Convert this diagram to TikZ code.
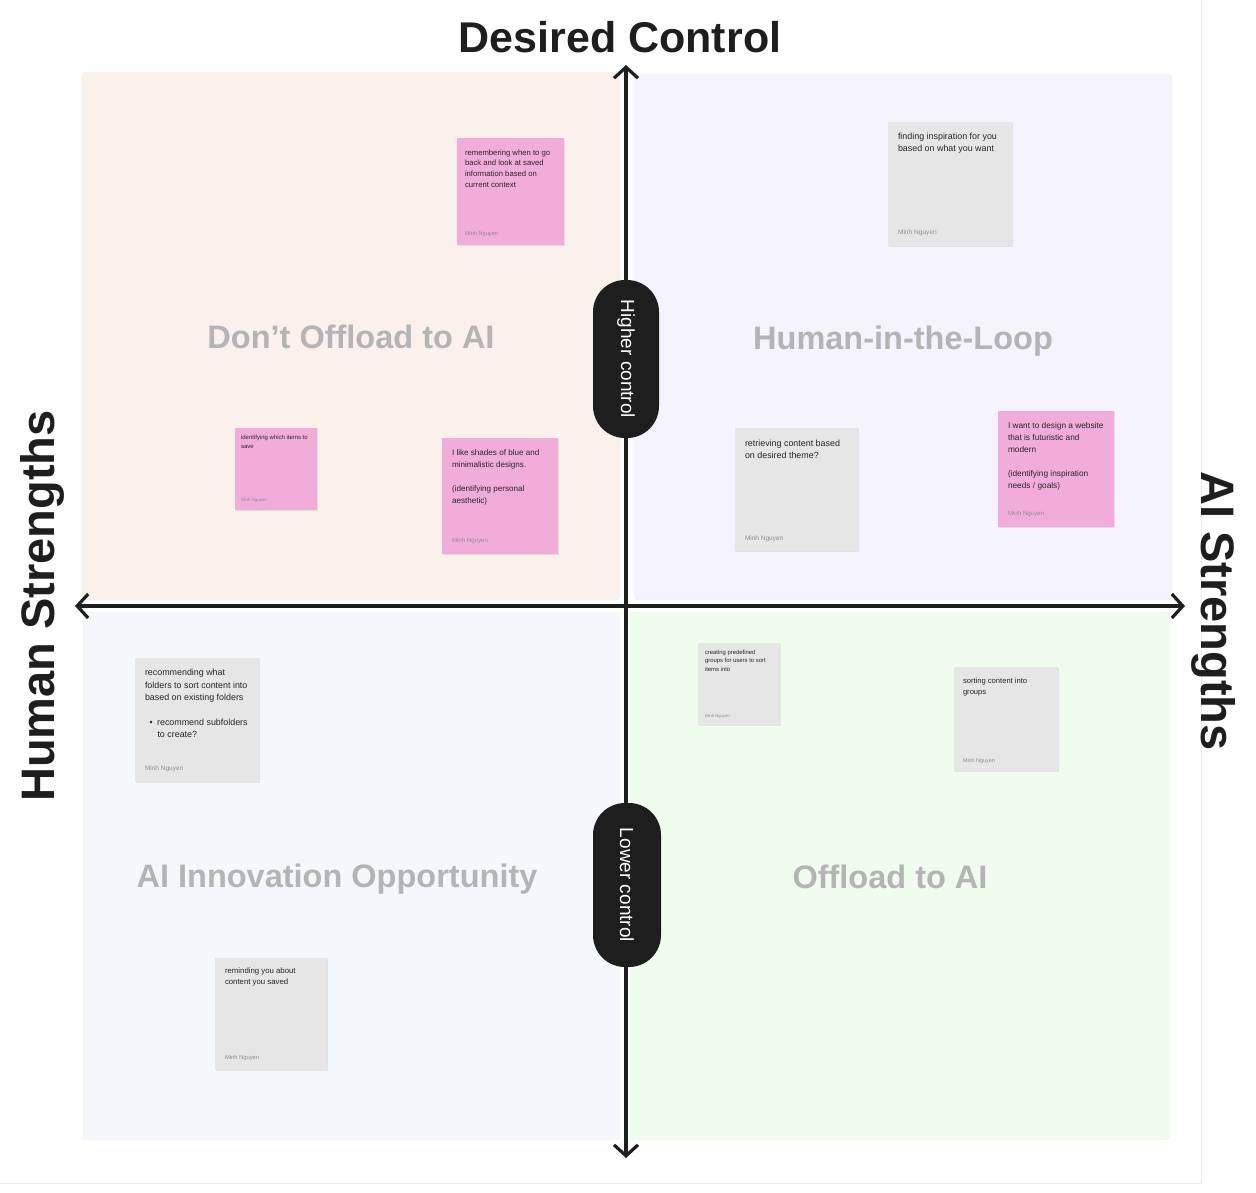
\documentclass[tikz,border=0pt]{standalone}
\usepackage{fontspec}
\setmainfont{Liberation Sans}
\usetikzlibrary{arrows.meta,positioning,shadows}

\definecolor{notepink}{HTML}{F2ACDA}
\definecolor{notegray}{HTML}{E6E6E6}
\definecolor{inkdark}{HTML}{1E1E1E}
\definecolor{quadtext}{HTML}{B4B4B4}
\definecolor{bgpeach}{HTML}{FBF1EC}
\definecolor{bglilac}{HTML}{F5F3FE}
\definecolor{bgblue}{HTML}{F4F8FD}
\definecolor{bggreen}{HTML}{EFFCEE}

\begin{document}
\begin{tikzpicture}[x=1pt,y=-1pt,
  quadrant/.style={draw=black!7,rounded corners=4pt},
  axis/.style={draw=inkdark,line width=3.2pt,
    {Straight Barb[length=11pt,width=24pt]}-{Straight Barb[length=11pt,width=24pt]}},
  pill/.style={fill=inkdark,text=white,rounded corners=32pt,rotate=-90,
    font=\fontsize{19}{19}\selectfont,minimum height=66pt},
  title/.style={font=\fontsize{43}{43}\selectfont\bfseries,text=inkdark,inner sep=0pt},
  quadlabel/.style={font=\fontsize{32.5}{32.5}\selectfont\bfseries,text=quadtext,inner sep=0pt},
  sticky/.style={minimum size=#1,inner sep=0pt,
    drop shadow={shadow xshift=0.6pt,shadow yshift=-1.4pt,fill=black,opacity=0.08}},
  notetext/.style 2 args={inner sep=0pt,align=left,text=black!85,
    font=\fontsize{#1}{#2}\selectfont},
  author/.style={inner sep=0pt,text=black!45,font=\fontsize{#1}{#1}\selectfont}]

  \useasboundingbox (0,0) rectangle (1256,1192);
  \draw[black!8] (1201,0) -- (1201,1183) -- (0,1183);

  % quadrants
  \draw[quadrant,fill=bgpeach] (82,72) rectangle (620,600);
  \draw[quadrant,fill=bglilac] (634,74) rectangle (1172,600);
  \draw[quadrant,fill=bgblue] (83,612) rectangle (620,1140);
  \draw[quadrant,fill=bggreen] (630,612) rectangle (1170,1140);

  % axes
  \coordinate (top) at (626,65);
  \coordinate (bottom) at (626,1158);
  \coordinate (left) at (75,606);
  \coordinate (right) at (1185,606);
  \draw[axis] (bottom) -- (top);
  \draw[axis] (left) -- (right);

  \node[pill,minimum width=158pt] (higher) at (626,359) {Higher control};
  \node[pill,minimum width=164pt,minimum height=68pt] (lower) at (627,885) {Lower control};

  % titles
  \node[title] (desired) at (620,37) {Desired Control};
  \node[title,rotate=90,font=\fontsize{47}{47}\selectfont\bfseries] (human) at (42,606) {Human Strengths};
  \node[title,rotate=-90,font=\fontsize{47}{47}\selectfont\bfseries] (aistr) at (1214,611) {AI Strengths};

  \node[quadlabel] (dont) at (351,337) {Don’t Offload to AI};
  \node[quadlabel] (loop) at (903,341) {Human-in-the-Loop};
  \node[quadlabel] (innov) at (337,879) {AI Innovation Opportunity};
  \node[quadlabel] (offload) at (890,877) {Offload to AI};

  % sticky notes
  \node[sticky=107pt,fill=notepink] (remember) at (510.5,191.5) {};
  \node[notetext={7.7}{10.8},below right=11.5pt and 8pt of remember.north west]
    {remembering when to go\\back and look at saved\\information based on\\current context};
  \node[author=5.6,above right=8.8pt and 8pt of remember.south west] {Minh Nguyen};

  \node[sticky=124pt,fill=notegray] (inspire) at (950,183.5) {};
  \node[notetext={8.9}{12},below right=12pt and 10pt of inspire.north west]
    {finding inspiration for you\\based on what you want};
  \node[author=6.6,above right=10pt and 10pt of inspire.south west] {Minh Nguyen};

  \node[sticky=82pt,fill=notepink] (itemsave) at (276,469) {};
  \node[notetext={6}{9},below right=7.5pt and 6pt of itemsave.north west]
    {identifying which items to\\save};
  \node[author=4.4,above right=7.5pt and 6pt of itemsave.south west] {Minh Nguyen};

  \node[sticky=116pt,fill=notepink] (aesthetic) at (500,496) {};
  \node[notetext={8.1}{12},below right=11.5pt and 10pt of aesthetic.north west]
    {I like shades of blue and\\minimalistic designs.\\[12pt](identifying personal\\aesthetic)};
  \node[author=6.1,above right=9.8pt and 10pt of aesthetic.south west] {Minh Nguyen};

  \node[sticky=123pt,fill=notegray] (retrieve) at (796.5,489.5) {};
  \node[notetext={8.9}{12},below right=12pt and 10pt of retrieve.north west]
    {retrieving content based\\on desired theme?};
  \node[author=6.5,above right=9.2pt and 10pt of retrieve.south west] {Minh Nguyen};

  \node[sticky=116pt,fill=notepink] (website) at (1056,469) {};
  \node[notetext={8.3}{12},below right=11.5pt and 10pt of website.north west]
    {I want to design a website\\that is futuristic and\\modern\\[12pt](identifying inspiration\\needs / goals)};
  \node[author=6.1,above right=9.8pt and 10pt of website.south west] {Minh Nguyen};

  \node[sticky=124pt,fill=notegray] (folders) at (197,719.5) {};
  \node[notetext={8.9}{12.3},below right=12pt and 10pt of folders.north west]
    {recommending what\\folders to sort content into\\based on existing folders\\[12.3pt]%
     \hspace*{4.5pt}\textbullet\hspace{4.5pt}recommend subfolders\\\hspace*{12.5pt}to create?};
  \node[author=6.5,above right=10pt and 10pt of folders.south west] {Minh Nguyen};

  \node[sticky=82pt,fill=notegray] (groups) at (739,684) {};
  \node[notetext={5.9}{8.5},below right=7pt and 7pt of groups.north west]
    {creating predefined\\groups for users to sort\\items into};
  \node[author=4.2,above right=6.5pt and 7pt of groups.south west] {Minh Nguyen};

  \node[sticky=104pt,fill=notegray] (sorting) at (1006,719) {};
  \node[notetext={7.6}{11},below right=10.5pt and 9pt of sorting.north west]
    {sorting content into\\groups};
  \node[author=5.4,above right=7.8pt and 9pt of sorting.south west] {Minh Nguyen};

  \node[sticky=112pt,fill=notegray] (reminding) at (271,1013.5) {};
  \node[notetext={7.8}{11},below right=10.5pt and 10pt of reminding.north west]
    {reminding you about\\content you saved};
  \node[author=5.8,above right=9.2pt and 10pt of reminding.south west] {Minh Nguyen};
\end{tikzpicture}
\end{document}
